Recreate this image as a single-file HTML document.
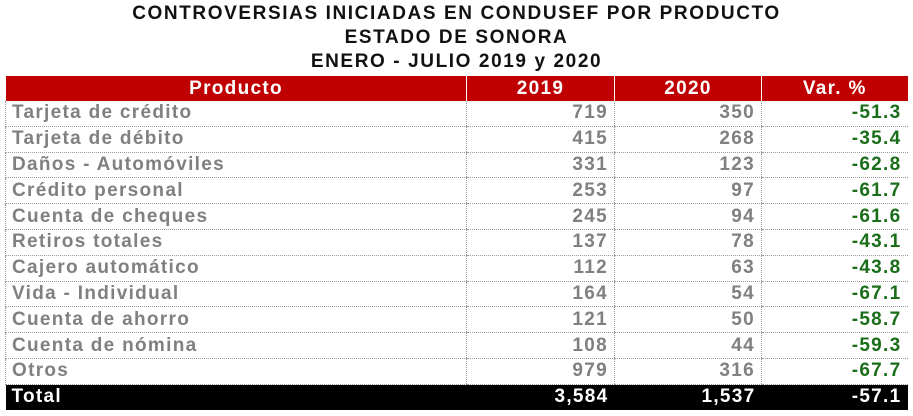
<!DOCTYPE html>
<html><head><meta charset="utf-8"><style>
body{margin:0;width:913px;height:416px;background:#fff;font-family:"Liberation Sans",sans-serif;overflow:hidden;position:relative}
.t{position:absolute;left:0;width:913px;text-align:center;font-weight:bold;font-size:19px;color:#111;letter-spacing:1.6px}
table{position:absolute;left:5px;top:76px;border-collapse:collapse;table-layout:fixed;width:902px}
td,th{padding:0 6px;height:24.8px;font-size:19px;font-weight:bold;white-space:nowrap;overflow:hidden;letter-spacing:1.3px;line-height:20px}
th{background:#c00000;color:#fff;height:25px;text-align:center;font-size:19px;border-left:1px solid #fff}
td{color:#808080;border-bottom:1px dotted #999;border-left:1px dotted #999;text-align:right}
td:first-child{text-align:left;border-left:1px dotted #999}
td.v{color:#1a6e1a}
tr.tot td{background:#000;color:#fff;height:25px;border:none}
</style></head><body>
<div class="t" style="top:3px">CONTROVERSIAS INICIADAS EN CONDUSEF POR PRODUCTO</div>
<div class="t" style="top:27px">ESTADO DE SONORA</div>
<div class="t" style="top:51px">ENERO - JULIO 2019 y 2020</div>
<table>
<colgroup><col style="width:461px"><col style="width:148px"><col style="width:147px"><col style="width:146px"></colgroup>
<tr><th>Producto</th><th>2019</th><th>2020</th><th>Var. %</th></tr>
<tr><td>Tarjeta de crédito</td><td>719</td><td>350</td><td class="v">-51.3</td></tr>
<tr><td>Tarjeta de débito</td><td>415</td><td>268</td><td class="v">-35.4</td></tr>
<tr><td>Daños - Automóviles</td><td>331</td><td>123</td><td class="v">-62.8</td></tr>
<tr><td>Crédito personal</td><td>253</td><td>97</td><td class="v">-61.7</td></tr>
<tr><td>Cuenta de cheques</td><td>245</td><td>94</td><td class="v">-61.6</td></tr>
<tr><td>Retiros totales</td><td>137</td><td>78</td><td class="v">-43.1</td></tr>
<tr><td>Cajero automático</td><td>112</td><td>63</td><td class="v">-43.8</td></tr>
<tr><td>Vida - Individual</td><td>164</td><td>54</td><td class="v">-67.1</td></tr>
<tr><td>Cuenta de ahorro</td><td>121</td><td>50</td><td class="v">-58.7</td></tr>
<tr><td>Cuenta de nómina</td><td>108</td><td>44</td><td class="v">-59.3</td></tr>
<tr><td>Otros</td><td>979</td><td>316</td><td class="v">-67.7</td></tr>
<tr class="tot"><td>Total</td><td>3,584</td><td>1,537</td><td>-57.1</td></tr>
</table>
</body></html>
